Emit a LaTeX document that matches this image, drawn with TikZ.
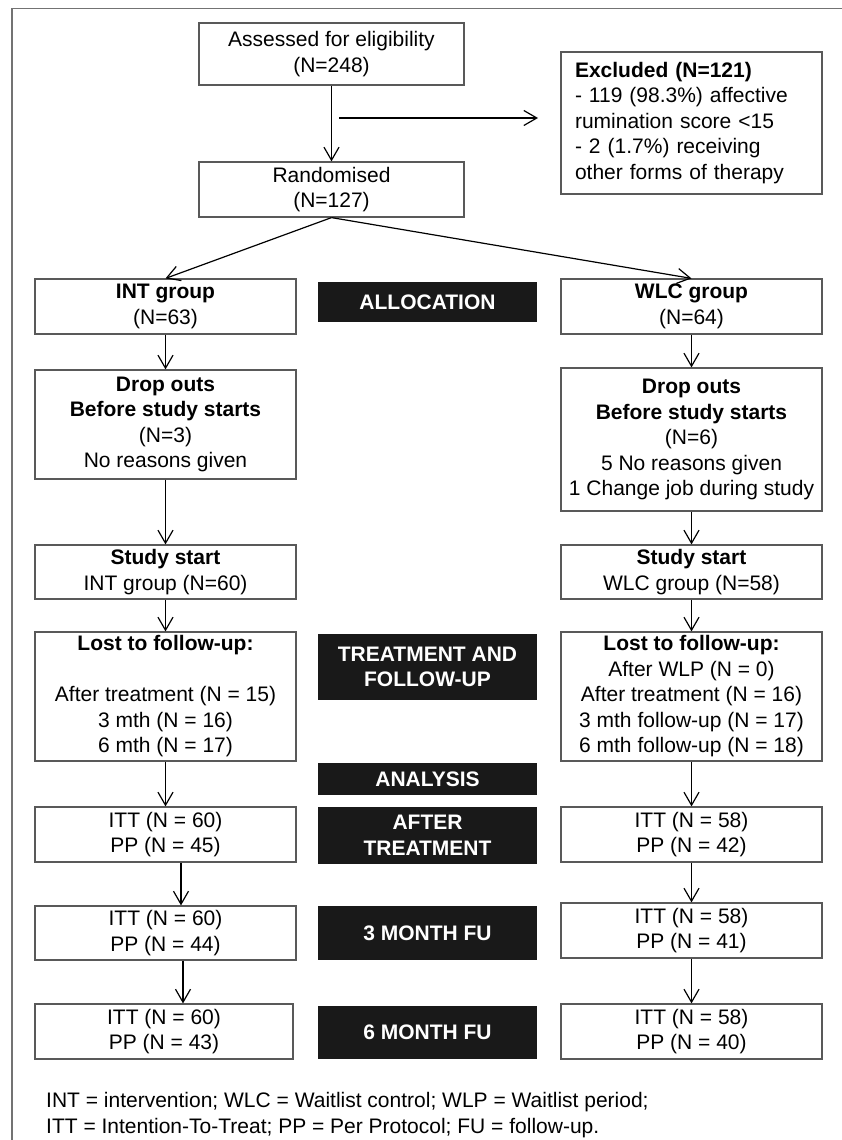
\documentclass[tikz,border=0pt]{standalone}
\usepackage{fontspec}
\setmainfont{Liberation Sans}
\usetikzlibrary{arrows.meta}
\newcommand\myfs{\fontsize{21}{25.5}\selectfont}
\tikzset{
  box/.style={draw=black!65, line width=1.2pt, fill=white, align=center, inner sep=0pt, font=\myfs},
  blk/.style={fill=black!90, text=white, align=center, inner sep=0pt, font=\myfs\bfseries},
  arr/.style={-{Straight Barb[length=13pt,width=15pt,line width=1.2pt]}, line width=1.2pt, black},
}
\begin{document}
\begin{tikzpicture}[x=1pt,y=-1pt]
\useasboundingbox (0,0) rectangle (842,1140);
\draw[black!55, line width=1.5pt] (12,1141) -- (12,8.3) -- (843,8.3);

% top
\node[box, minimum width=265pt, minimum height=62pt] (assess) at (331.5,54) {Assessed for eligibility\\(N=248)};
\node[box, minimum width=261pt, minimum height=142pt, text width=233pt, inner xsep=14pt, align=left] (excl) at (691.5,123)
  {\textbf{Excluded (N=121)}\\- 119 (98.3\%) affective\\rumination score <15\\- 2 (1.7\%) receiving\\other forms of therapy};
\node[box, minimum width=265pt, minimum height=55pt] (rand) at (331.5,189.5) {Randomised\\(N=127)};

% allocation
\node[box, minimum width=261pt, minimum height=55pt] (intg) at (165.5,306.5) {\textbf{INT group}\\(N=63)};
\node[box, minimum width=261pt, minimum height=55pt] (wlcg) at (691.5,306.5) {\textbf{WLC group}\\(N=64)};
\node[blk, minimum width=219pt, minimum height=40pt] (alloc) at (427.5,302) {ALLOCATION};

\node[box, minimum width=261pt, minimum height=109pt] (dropI) at (165.5,424.5)
  {\textbf{Drop outs}\\\textbf{Before study starts}\\(N=3)\\No reasons given};
\node[box, minimum width=261pt, minimum height=143pt] (dropW) at (691.5,439.5)
  {\textbf{Drop outs}\\\textbf{Before study starts}\\(N=6)\\5 No reasons given\\1 Change job during study};

\node[box, minimum width=261pt, minimum height=54pt] (startI) at (165.5,572) {\textbf{Study start}\\INT group (N=60)};
\node[box, minimum width=261pt, minimum height=54pt] (startW) at (691.5,572) {\textbf{Study start}\\WLC group (N=58)};

\node[box, minimum width=261pt, minimum height=129pt] (lostI) at (165.5,696.5)
  {\textbf{Lost to follow-up:}\\\mbox{}\\After treatment (N = 15)\\3 mth (N = 16)\\6 mth (N = 17)};
\node[box, minimum width=261pt, minimum height=129pt] (lostW) at (691.5,696.5)
  {\textbf{Lost to follow-up:}\\After WLP (N = 0)\\After treatment (N = 16)\\3 mth follow-up (N = 17)\\6 mth follow-up (N = 18)};
\node[blk, minimum width=219pt, minimum height=66pt] (treat) at (427.5,667) {TREATMENT AND\\FOLLOW-UP};

\node[blk, minimum width=219pt, minimum height=32pt] (analysis) at (427.5,779) {ANALYSIS};

\node[box, minimum width=261pt, minimum height=55pt] (ittAI) at (165.5,834.5) {ITT (N = 60)\\PP (N = 45)};
\node[box, minimum width=261pt, minimum height=55pt] (ittAW) at (691.5,834.5) {ITT (N = 58)\\PP (N = 42)};
\node[blk, minimum width=219pt, minimum height=57pt] (after) at (427.5,835.5) {AFTER\\TREATMENT};

\node[box, minimum width=261pt, minimum height=54pt] (ittBI) at (165.5,933) {ITT (N = 60)\\PP (N = 44)};
\node[box, minimum width=261pt, minimum height=55pt] (ittBW) at (691.5,930.5) {ITT (N = 58)\\PP (N = 41)};
\node[blk, minimum width=219pt, minimum height=54pt] (m3) at (427.5,933) {3 MONTH FU};

\node[box, minimum width=258pt, minimum height=55pt] (ittCI) at (164,1031.5) {ITT (N = 60)\\PP (N = 43)};
\node[box, minimum width=261pt, minimum height=55pt] (ittCW) at (691.5,1031.5) {ITT (N = 58)\\PP (N = 40)};
\node[blk, minimum width=219pt, minimum height=53pt] (m6) at (427.5,1032.5) {6 MONTH FU};

\node[anchor=west, inner sep=0pt, align=left, font=\fontsize{21}{26}\selectfont] (note) at (46,1115)
  {INT = intervention; WLC = Waitlist control; WLP = Waitlist period;\\ITT = Intention-To-Treat; PP = Per Protocol; FU = follow-up.};

% connectors
\coordinate (e1) at (339,118);
\coordinate (e2) at (538,118);
\draw[arr] (assess.south) -- (rand.north);
\draw[arr] (e1) -- (e2);
\draw[arr] (rand.south) -- (intg.north);
\draw[arr] (rand.south) -- (wlcg.north);
\draw[arr] (intg) -- (dropI);
\draw[arr] (dropI) -- (startI);
\draw[arr] (startI) -- (lostI);
\draw[arr] (lostI) -- (ittAI);
\draw[arr] ([xshift=15.5pt]ittAI.south) -- ([xshift=15.5pt]ittBI.north);
\draw[arr] ([xshift=17.5pt]ittBI.south) -- ([xshift=19pt]ittCI.north);
\draw[arr] (wlcg) -- (dropW);
\draw[arr] (dropW) -- (startW);
\draw[arr] (startW) -- (lostW);
\draw[arr] (lostW) -- (ittAW);
\draw[arr] (ittAW) -- (ittBW);
\draw[arr] (ittBW) -- (ittCW);
\end{tikzpicture}
\end{document}
